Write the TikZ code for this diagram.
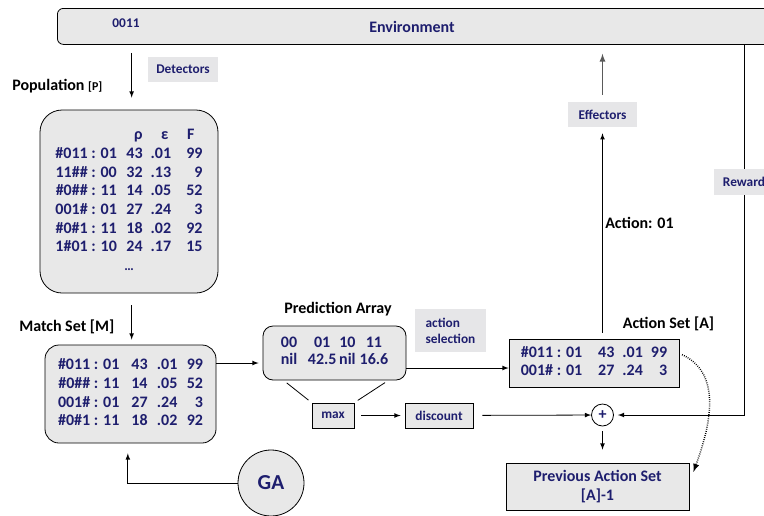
\documentclass[tikz,border=0pt]{standalone}
\usepackage{fontspec}
\setmainfont{Carlito}
\usetikzlibrary{arrows}
\definecolor{navytext}{RGB}{30,30,110}
\definecolor{boxgray}{RGB}{232,232,232}
\definecolor{labgray}{RGB}{230,230,232}
\definecolor{arrowgray}{RGB}{90,90,90}
\newcommand\colorText{navytext}
\newcommand\colorFill{boxgray}
\newcommand\colorLabel{labgray}
\newdimen\pxlen
\pxlen=0.75pt

\begin{document}
\begin{tikzpicture}[x=0.75pt, y=-0.75pt, font=\bfseries,
	grybox/.style={draw=black, fill=\colorFill, line width=0.6pt, inner sep=0pt, text=\colorText, font=\bfseries\large},
	lab/.style={fill=\colorLabel, inner sep=0pt, text=\colorText, font=\bfseries\normalsize},
	head/.style={text=black, font=\bfseries\large, inner sep=0pt},
	arr/.style={-latex, line width=0.6pt}]
	\useasboundingbox (0,0) rectangle (764,515);
	
	% environment
	\node[grybox, rounded corners=6\pxlen, anchor=north west, minimum width=760\pxlen, minimum height=36\pxlen] (env) at (57,8) {};
	\node[text=\colorText, font=\bfseries\normalsize] (inp) at (126,23) {0011};
	\node[text=\colorText, font=\bfseries\large] (envtxt) at (412,27) {Environment};
	
	% population
	\node[head, anchor=west] (poptxt) at (12,86) {Population {\small[P]}};
	\node[grybox, rounded corners=22\pxlen, minimum width=178\pxlen, minimum height=183\pxlen] (pop) at (129,201.5) {%
		\begin{tabular}{@{}r@{\hspace{7pt}}r@{\hspace{6pt}}r@{\hspace{6pt}}r@{}}
			& \multicolumn{1}{c}{ρ} & \multicolumn{1}{c}{ε} & \multicolumn{1}{c}{F}\\
			\#011 : 01 & 43 & .01 & 99\\
			11\#\# : 00 & 32 & .13 & 9\\
			\#0\#\# : 11 & 14 & .05 & 52\\
			001\# : 01 & 27 & .24 & 3\\
			\#0\#1 : 11 & 18 & .02 & 92\\
			1\#01 : 10 & 24 & .17 & 15\\
			\multicolumn{4}{c}{\normalsize …}
		\end{tabular}};
	
	% match set
	\node[head, anchor=west] (mtxt) at (19,327) {Match Set [M]};
	\node[grybox, rounded corners=14\pxlen, minimum width=171\pxlen, minimum height=98\pxlen] (match) at (130.5,394) {%
		\begin{tabular}{@{}r@{\hspace{9pt}}r@{\hspace{7pt}}r@{\hspace{7pt}}r@{}}
			\#011 : 01 & 43 & .01 & 99\\
			\#0\#\# : 11 & 14 & .05 & 52\\
			001\# : 01 & 27 & .24 & 3\\
			\#0\#1 : 11 & 18 & .02 & 92
		\end{tabular}};
	
	% prediction array
	\node[head] (ptxt) at (338,309) {Prediction Array};
	\node[grybox, rounded corners=10\pxlen, minimum width=143\pxlen, minimum height=54\pxlen] (pred) at (334.5,353) {%
		\renewcommand\arraystretch{0.9}%
		\begin{tabular}{@{}c@{\hspace{8pt}}c@{\hspace{2pt}}c@{\hspace{3pt}}c@{}}
			00 & 01 & 10 & 11\\
			nil & 42.5 & nil & 16.6
		\end{tabular}};
	\node[grybox, font=\bfseries\normalsize, minimum width=42\pxlen, minimum height=25\pxlen] (max) at (333,415.5) {max};
	\node[grybox, font=\bfseries\normalsize, minimum width=68\pxlen, minimum height=25\pxlen] (disc) at (439,415.5) {discount};
	\node[lab, align=left, minimum width=71\pxlen, minimum height=43\pxlen] (sel) at (450.5,330.5) {action\\selection};
	
	% action set
	\node[head] (atxt) at (668.5,324) {Action Set [A]};
	\node[grybox, minimum width=170\pxlen, minimum height=48\pxlen] (action) at (594,363) {%
		\renewcommand\arraystretch{0.95}%
		\begin{tabular}{@{}r@{\hspace{12pt}}r@{\hspace{6pt}}r@{\hspace{6pt}}r@{}}
			\#011 : 01 & 43 & .01 & 99\\
			001\# : 01 & 27 & .24 & 3
		\end{tabular}};
	\node[lab, minimum width=69\pxlen, minimum height=25\pxlen] (eff) at (602.5,114.5) {Effectors};
	\node[head, anchor=west] (acttxt) at (605,223) {Action: 01};
	\node[lab, minimum width=70\pxlen, minimum height=25\pxlen] (det) at (183,69.5) {Detectors};
	
	% update
	\node[draw=black, fill=white, circle, line width=0.6pt, minimum size=22\pxlen, inner sep=0pt, text=\colorText, font=\bfseries\large] (plus) at (602.5,415) {+};
	\node[grybox, align=center, minimum width=183\pxlen, minimum height=47\pxlen] (prev) at (597.5,486.5) {Previous Action Set\\{[A]-1}};
	\node[grybox, circle, minimum size=66\pxlen, font=\bfseries\fontsize{16}{19}\selectfont] (ga) at (271,483) {GA};
	\coordinate (rw) at (744,415);
	\coordinate (mp) at ([yshift=-7.5pt]pred.west);
	\coordinate (pa) at ([yshift=-3.75pt]action.west);
	
	\draw[arr, shorten <=8\pxlen, shorten >=12\pxlen] ([xshift=2pt]pop.north |- env.south) -- ([xshift=2pt]pop.north);
	\draw[arr, shorten <=12\pxlen, shorten >=5\pxlen] ([xshift=2pt]pop.south) -- ([xshift=2pt]pop.south |- match.north);
	\draw[arr, shorten >=4\pxlen] (mp -| match.east) -- (mp);
	\draw[arr] (pa -| pred.east) -- (pa);
	\draw[line width=0.6pt, shorten <=4\pxlen, shorten >=4\pxlen] ([xshift=15.75pt]pred.south west) -- (max.north west);
	\draw[line width=0.6pt, shorten <=4\pxlen, shorten >=4\pxlen] ([xshift=-13.5pt]pred.south east) -- (max.north east);
	\draw[arr, shorten <=7\pxlen, shorten >=4\pxlen] (max) -- (disc);
	\draw[arr, shorten <=9\pxlen] (disc) -- (plus);
	\draw[arr, shorten >=4\pxlen] (rw |- env.south) -- node[lab, pos=0.37, minimum width=61\pxlen, minimum height=26\pxlen] (rew) {Reward} (rw) -- (plus);
	\draw[arr, shorten <=6\pxlen, shorten >=6\pxlen] (eff.south |- action.north) -- (eff.south);
	\draw[arr, color=arrowgray, line width=1pt, shorten <=7\pxlen, shorten >=9\pxlen] (eff.north) -- (eff.north |- env.south);
	\draw[arr, shorten <=5\pxlen, shorten >=13\pxlen] (plus.south) -- (plus.south |- prev.north);
	\draw[arr, densely dotted, line width=1.1pt] ([xshift=2pt,yshift=-12pt]action.north east) to[out=-25, in=70] ([xshift=3pt,yshift=-7pt]prev.north east);
	\draw[arr, shorten >=10\pxlen] (ga.west) -| ([xshift=-2pt]match.south);
\end{tikzpicture}
\end{document}
